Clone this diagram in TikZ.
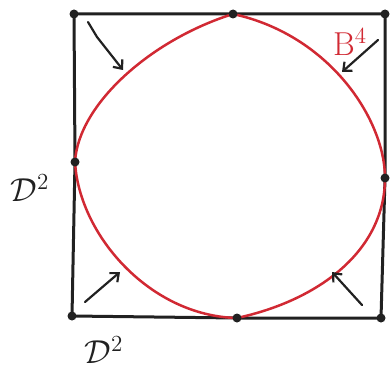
\documentclass[tikz,border=0pt]{standalone}
\usepackage{amsmath,amssymb}
\usepackage{graphicx}
\usetikzlibrary{backgrounds,arrows.meta}
\definecolor{ballred}{rgb}{0.820,0.160,0.200}
\definecolor{inkgray}{rgb}{0.130,0.130,0.130}
\newcommand{\biglbl}[1]{\scalebox{1.6}{\huge #1}}

\begin{document}
\begin{tikzpicture}[
    x=1pt, y=-1pt,
    vdot/.style={
        circle, fill=inkgray, inner sep=0pt, minimum size=9pt
    },
    sqedge/.style={
        draw=inkgray, line width=3pt, line cap=round
    },
    ballbd/.style={
        draw=ballred, line width=2.5pt
    },
    flow/.style={
        draw=inkgray, line width=2.2pt, line cap=round, line join=round,
        -{Straight Barb[length=7pt,width=12pt,line width=2.2pt]}
    },
    lbl/.style={
        inner sep=0pt
    },
]

%% frame of the picture
\useasboundingbox (0,0) rectangle (390,377);

%% ===================== VERTICES =====================
%% corners of the square D^2 x D^2
\node[vdot] (ctl) at (74,14)   {};
\node[vdot] (ctr) at (385,14)  {};
\node[vdot] (cbr) at (381,318) {};
\node[vdot] (cbl) at (72,316)  {};

%% points where the ball touches the square
\node[vdot] (mt) at (233,14)  {};
\node[vdot] (mr) at (385,178) {};
\node[vdot] (mb) at (237,318) {};
\node[vdot] (ml) at (75,162)  {};

%% ===================== SQUARE =====================
\begin{scope}[on background layer]
  \draw[sqedge] (ctl.center) -- (mt.center) -- (ctr.center)
    -- (mr.center) -- (cbr.center) -- (mb.center)
    -- (cbl.center) -- (ml.center) -- cycle;

  %% boundary of the ball B^4
  \draw[ballbd] (mt.center)
    .. controls (330,35) and (385,120) .. (mr.center)
    .. controls (385,250) and (320,300) .. (mb.center)
    .. controls (150,316) and (79,235) .. (ml.center)
    .. controls (78,105) and (150,40) .. (mt.center);
\end{scope}

%% ===================== ARROWS =====================
% top left, with a kink
\coordinate (a1s) at (88,22);
\coordinate (a1k) at (97,37);
\coordinate (a1e) at (123,70);
\draw[flow] (a1s) -- (a1k) -- (a1e);

% top right
\coordinate (a2s) at (378,40);
\coordinate (a2e) at (342,72);
\draw[flow] (a2s) -- (a2e);

% bottom left
\coordinate (a3s) at (85,302);
\coordinate (a3e) at (120,272);
\draw[flow] (a3s) -- (a3e);

% bottom right
\coordinate (a4s) at (362,305);
\coordinate (a4e) at (332,272);
\draw[flow] (a4s) -- (a4e);

%% ===================== LABELS =====================
\node[lbl, text=ballred] (lball) at (350,42) {\biglbl{$\mathrm{B}^4$}};
\node[lbl, text=inkgray] (lleft) at (30,188) {\biglbl{$\mathcal{D}^2$}};
\node[lbl, text=inkgray] (lbot) at (104,350) {\biglbl{$\mathcal{D}^2$}};

\end{tikzpicture}
\end{document}
